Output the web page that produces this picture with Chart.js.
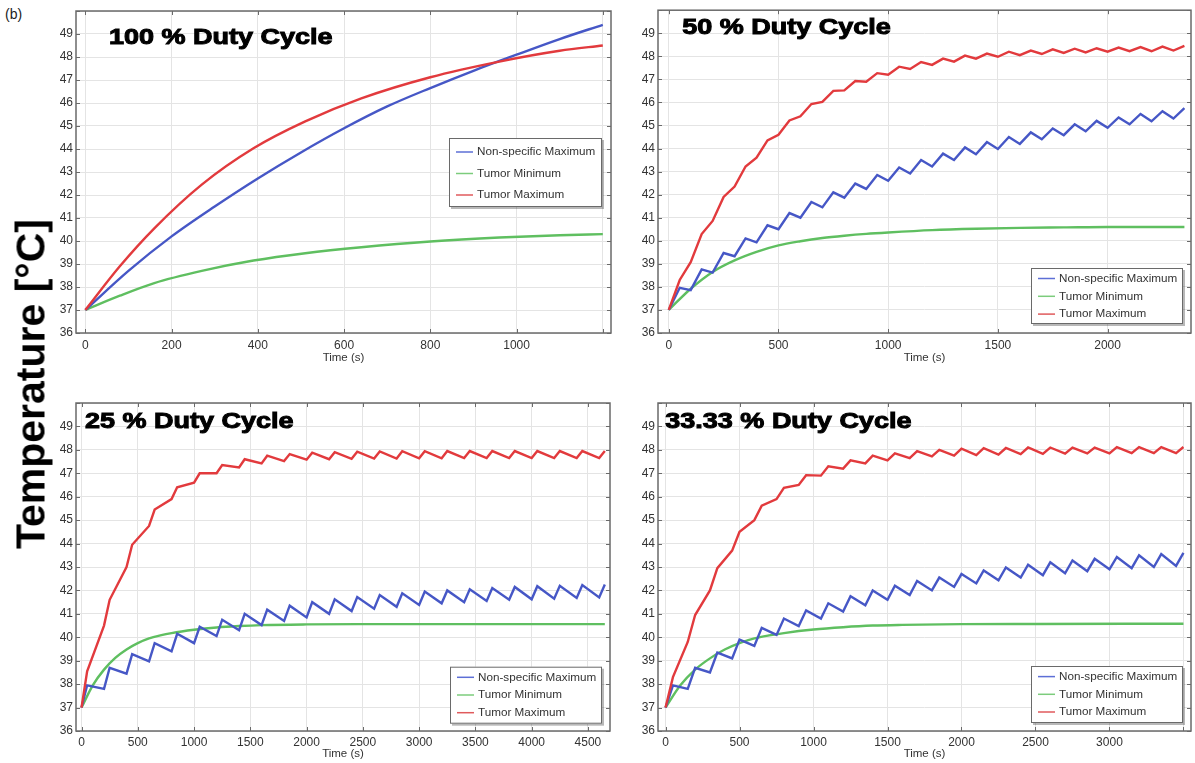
<!DOCTYPE html>
<html>
<head>
<meta charset="utf-8">
<script src="https://cdn.jsdelivr.net/npm/chart.js@4.4.1/dist/chart.umd.min.js"></script>
<style>
  body { margin: 0; background: #fff; width: 1195px; height: 763px; position: relative; overflow: hidden; font-family: 'Liberation Sans', Arial, sans-serif; }
  canvas { position: absolute; }
  #tag { position: absolute; left: 5px; top: 6px; font-size: 14px; color: #222; }
  #ylab { position: absolute; left: 31px; top: 384px; transform: translate(-50%, -50%) rotate(-90deg); font-weight: bold; font-size: 41px; line-height: 1; white-space: nowrap; color: #000; z-index: 5; }
</style>
</head>
<body>
<div id="tag">(b)</div>
<canvas id="c100" width="580" height="375" style="left:40px;top:0px"></canvas>
<canvas id="c50" width="575" height="375" style="left:620px;top:0px"></canvas>
<canvas id="c25" width="580" height="388" style="left:40px;top:375px"></canvas>
<canvas id="c33" width="575" height="388" style="left:620px;top:375px"></canvas>
<div id="ylab">Temperature [°C]</div>
<script>
// ---- 100 % duty cycle
const dc100TimeBlue = [0, 100, 200, 300, 400, 500, 600, 700, 800, 900, 1000, 1100, 1200];
const dc100Blue = [37, 38.7, 40.2, 41.5, 42.72, 43.85, 44.9, 45.85, 46.65, 47.4, 48.1, 48.78, 49.4];
const dc100Time = [0, 80, 160, 270, 390, 510, 640, 800, 960, 1100, 1200];
const dc100Green = [37, 37.62, 38.17, 38.7, 39.15, 39.47, 39.73, 39.98, 40.15, 40.25, 40.3];
const dc100Red = [37, 38.9, 40.55, 42.45, 44.03, 45.2, 46.2, 47.12, 47.8, 48.27, 48.5];

// ---- 50 % duty cycle
const dc50Time = [0, 50, 100, 150, 200, 250, 300, 350, 400, 450, 500, 550, 600, 650, 700, 750, 800, 850, 900, 950,
  1000, 1050, 1100, 1150, 1200, 1250, 1300, 1350, 1400, 1450, 1500, 1550, 1600, 1650, 1700, 1750, 1800, 1850, 1900, 1950,
  2000, 2050, 2100, 2150, 2200, 2250, 2300, 2350];
const dc50Blue = [37, 37.96, 37.86, 38.76, 38.62, 39.47, 39.33, 40.1, 39.93, 40.67, 40.5, 41.2, 41.0, 41.68, 41.45, 42.1,
  41.87, 42.48, 42.25, 42.85, 42.6, 43.18, 42.92, 43.5, 43.22, 43.78, 43.5, 44.05, 43.75, 44.28, 43.98, 44.5, 44.2, 44.7,
  44.4, 44.87, 44.58, 45.05, 44.75, 45.2, 44.9, 45.35, 45.05, 45.5, 45.18, 45.62, 45.3, 45.75];
const dc50Red = [37, 38.3, 39.07, 40.29, 40.86, 41.9, 42.35, 43.22, 43.6, 44.35, 44.6, 45.22, 45.4, 45.93, 46.02, 46.5,
  46.52, 46.93, 46.9, 47.27, 47.2, 47.55, 47.45, 47.75, 47.63, 47.9, 47.77, 48.03, 47.9, 48.12, 47.98, 48.2, 48.05, 48.25,
  48.1, 48.3, 48.15, 48.33, 48.17, 48.35, 48.2, 48.38, 48.22, 48.4, 48.22, 48.42, 48.25, 48.45];
const dc50GreenTime = [0, 100, 200, 300, 400, 500, 600, 700, 800, 900, 1000, 1200, 1400, 1600, 1800, 2000, 2350];
const dc50Green = [37, 37.92, 38.65, 39.15, 39.52, 39.8, 39.98, 40.12, 40.22, 40.3, 40.36, 40.46, 40.52, 40.56, 40.58, 40.6, 40.6];

// ---- 25 % duty cycle
const dc25Time = [0, 50, 200, 250, 400, 450, 600, 650, 800, 850, 1000, 1050, 1200, 1250, 1400, 1450, 1600, 1650, 1800, 1850,
  2000, 2050, 2200, 2250, 2400, 2450, 2600, 2650, 2800, 2850, 3000, 3050, 3200, 3250, 3400, 3450, 3600, 3650, 3800, 3850,
  4000, 4050, 4200, 4250, 4400, 4450, 4600, 4650];
const dc25Blue = [37, 37.95, 37.8, 38.7, 38.45, 39.28, 38.97, 39.75, 39.4, 40.15, 39.75, 40.45, 40.05, 40.75, 40.3, 41.0,
  40.52, 41.18, 40.7, 41.35, 40.85, 41.5, 41.0, 41.62, 41.12, 41.72, 41.22, 41.8, 41.3, 41.88, 41.38, 41.95, 41.45, 42.0,
  41.5, 42.05, 41.55, 42.1, 41.6, 42.15, 41.62, 42.18, 41.65, 42.2, 41.68, 42.23, 41.7, 42.25];
const dc25Red = [37, 38.55, 40.5, 41.6, 43.0, 43.95, 44.75, 45.45, 45.9, 46.4, 46.6, 47.0, 47.0, 47.35, 47.25, 47.6,
  47.42, 47.75, 47.52, 47.82, 47.58, 47.88, 47.6, 47.9, 47.62, 47.92, 47.63, 47.93, 47.63, 47.94, 47.64, 47.94, 47.64, 47.95,
  47.65, 47.95, 47.65, 47.95, 47.65, 47.95, 47.65, 47.95, 47.65, 47.95, 47.65, 47.95, 47.65, 47.95];
const dc25GreenTime = [0, 100, 200, 300, 400, 500, 600, 700, 800, 1000, 1200, 1400, 1600, 2000, 2500, 3000, 4650];
const dc25Green = [37, 37.95, 38.62, 39.12, 39.48, 39.75, 39.95, 40.08, 40.18, 40.32, 40.42, 40.48, 40.52, 40.55, 40.56, 40.56, 40.56];

// ---- 33.33 % duty cycle
const dc33Time = [0, 50, 150, 200, 300, 350, 450, 500, 600, 650, 750, 800, 900, 950, 1050, 1100, 1200, 1250, 1350, 1400,
  1500, 1550, 1650, 1700, 1800, 1850, 1950, 2000, 2100, 2150, 2250, 2300, 2400, 2450, 2550, 2600, 2700, 2750, 2850, 2900,
  3000, 3050, 3150, 3200, 3300, 3350, 3450, 3500];
const dc33Blue = [37, 37.95, 37.8, 38.7, 38.5, 39.35, 39.1, 39.9, 39.63, 40.4, 40.1, 40.8, 40.48, 41.15, 40.8, 41.45,
  41.1, 41.75, 41.37, 42.0, 41.6, 42.2, 41.8, 42.4, 42.0, 42.55, 42.15, 42.7, 42.3, 42.85, 42.43, 42.98, 42.55, 43.1,
  42.65, 43.2, 42.73, 43.28, 42.82, 43.35, 42.9, 43.43, 42.95, 43.5, 43.0, 43.55, 43.05, 43.6];
const dc33Red = [37, 38.3, 39.8, 40.95, 42.0, 42.95, 43.7, 44.5, 45.0, 45.62, 45.9, 46.38, 46.5, 46.92, 46.9, 47.3,
  47.2, 47.55, 47.42, 47.75, 47.55, 47.85, 47.65, 47.95, 47.72, 48.0, 47.75, 48.05, 47.78, 48.07, 47.8, 48.08, 47.82, 48.1,
  47.83, 48.1, 47.84, 48.1, 47.85, 48.1, 47.85, 48.12, 47.86, 48.12, 47.86, 48.12, 47.86, 48.12];
const dc33GreenTime = [0, 100, 200, 300, 400, 500, 600, 700, 800, 1000, 1200, 1400, 1600, 2000, 2500, 3500];
const dc33Green = [37, 37.95, 38.62, 39.1, 39.48, 39.75, 39.95, 40.08, 40.18, 40.33, 40.43, 40.5, 40.53, 40.56, 40.57, 40.58];

// ---- ticks
const yTicks = [36, 37, 38, 39, 40, 41, 42, 43, 44, 45, 46, 47, 48, 49, 50];
const yLabels = [36, 37, 38, 39, 40, 41, 42, 43, 44, 45, 46, 47, 48, 49];
const xTicks100 = [0, 200, 400, 600, 800, 1000, 1200];
const xLabels100 = [0, 200, 400, 600, 800, 1000];
const xTicks50 = [0, 500, 1000, 1500, 2000];
const xTicks25 = [0, 500, 1000, 1500, 2000, 2500, 3000, 3500, 4000, 4500];
const xTicks33 = [0, 500, 1000, 1500, 2000, 2500, 3000, 3500];
const xLabels33 = [0, 500, 1000, 1500, 2000, 2500, 3000];

const seriesNames = ["Non-specific Maximum", "Tumor Minimum", "Tumor Maximum"];

Chart.defaults.font.family = "'Liberation Sans', Arial, sans-serif";
Chart.defaults.color = "#333";

const toPoints = (xs, ys) => xs.map((x, i) => ({ x: x, y: ys[i] }));

const framePlugin = {
  id: "frame",
  afterDatasetsDraw(chart) {
    const { ctx, chartArea: a, scales } = chart;
    ctx.save();
    ctx.strokeStyle = "#6a6a6a";
    ctx.lineWidth = 1;
    ctx.beginPath();
    scales.x.ticks.forEach(t => {
      const px = Math.round(scales.x.getPixelForValue(t.value)) + 0.5;
      ctx.moveTo(px, a.bottom); ctx.lineTo(px, a.bottom - 4);
      ctx.moveTo(px, a.top); ctx.lineTo(px, a.top + 4);
    });
    scales.y.ticks.forEach(t => {
      const py = Math.round(scales.y.getPixelForValue(t.value)) + 0.5;
      ctx.moveTo(a.left, py); ctx.lineTo(a.left + 4, py);
      ctx.moveTo(a.right, py); ctx.lineTo(a.right - 4, py);
    });
    ctx.stroke();
    ctx.lineWidth = 1.5;
    ctx.strokeRect(a.left, a.top, a.right - a.left, a.bottom - a.top);
    ctx.restore();
  }
};

const panelPlugin = {
  id: "panel",
  afterDraw(chart, args, opts) {
    const ctx = chart.ctx;
    const lg = opts.legend;
    ctx.save();
    // legend box
    ctx.fillStyle = "rgba(0,0,0,0.28)";
    ctx.fillRect(lg.x + 2, lg.y + 2, lg.w, lg.h);
    ctx.fillStyle = "#fff";
    ctx.fillRect(lg.x, lg.y, lg.w, lg.h);
    ctx.strokeStyle = "#6a6a6a";
    ctx.lineWidth = 1;
    ctx.strokeRect(lg.x + 0.5, lg.y + 0.5, lg.w - 1, lg.h - 1);
    ctx.font = "11.7px 'Liberation Sans'";
    ctx.textBaseline = "middle";
    ctx.textAlign = "left";
    chart.data.datasets.forEach((ds, i) => {
      const cy = lg.y + lg.first + i * lg.row;
      ctx.strokeStyle = ds.legendColor;
      ctx.lineWidth = 1.5;
      ctx.beginPath();
      ctx.moveTo(lg.x + 7, cy); ctx.lineTo(lg.x + 24, cy);
      ctx.stroke();
      ctx.fillStyle = "#333";
      ctx.fillText(ds.label, lg.x + 28, cy);
    });
    ctx.restore();

    // panel title, a little stretched and heavy like the original
    ctx.save();
    ctx.translate(opts.title.x, opts.title.y);
    ctx.scale(1.2, 1);
    ctx.font = "bold 22.5px 'Liberation Sans'";
    ctx.textBaseline = "alphabetic";
    ctx.textAlign = "left";
    ctx.fillStyle = "#000";
    ctx.strokeStyle = "#000";
    ctx.lineWidth = 1;
    ctx.fillText(opts.title.text, 0, 0);
    ctx.strokeText(opts.title.text, 0, 0);
    ctx.restore();
  }
};

function makePanel(id, p) {
  const datasets = [
    { label: seriesNames[0], data: toPoints(p.blueTime, p.blue), borderColor: "#4657c6", legendColor: "#5d6fd6", order: 1,
      cubicInterpolationMode: p.smooth ? "monotone" : "default" },
    { label: seriesNames[1], data: toPoints(p.greenTime, p.green), borderColor: "#5fbf60", legendColor: "#7ccc7c", order: 2,
      cubicInterpolationMode: "monotone" },
    { label: seriesNames[2], data: toPoints(p.redTime, p.red), borderColor: "#e23a3d", legendColor: "#e05a5c", order: 0,
      cubicInterpolationMode: p.smooth ? "monotone" : "default" }
  ];
  datasets.forEach(d => { d.borderWidth = 2.4; d.pointRadius = 0; d.fill = false; d.tension = 0; });

  new Chart(document.getElementById(id), {
    type: "line",
    data: { datasets: datasets },
    plugins: [framePlugin, panelPlugin],
    options: {
      responsive: false,
      animation: false,
      devicePixelRatio: 1,
      layout: { padding: { left: 0, top: p.padTop, right: p.padRight, bottom: 0 } },
      plugins: {
        legend: { display: false },
        tooltip: { enabled: false },
        panel: { legend: p.legend, title: p.title }
      },
      scales: {
        x: {
          type: "linear",
          min: p.xMin,
          max: p.xMax,
          afterBuildTicks: axis => { axis.ticks = p.xTicks.map(v => ({ value: v })); },
          afterFit: axis => { axis.height = p.xHeight; },
          ticks: {
            padding: p.tickPad,
            font: { size: 12 },
            color: "#333",
            maxRotation: 0,
            autoSkip: false,
            callback: v => (p.xLabels.includes(v) ? String(v) : "")
          },
          grid: { color: "#e4e4e4", drawTicks: false },
          border: { display: false },
          title: { display: true, text: "Time (s)", font: { size: 11.5 }, color: "#333", padding: { top: 0, bottom: p.titlePad } }
        },
        y: {
          type: "linear",
          min: 36,
          max: 50,
          afterBuildTicks: axis => { axis.ticks = yTicks.map(v => ({ value: v })); },
          afterFit: axis => { axis.width = p.yWidth; },
          ticks: {
            padding: 3,
            font: { size: 12 },
            color: "#333",
            autoSkip: false,
            callback: v => (yLabels.includes(v) ? String(v) : "")
          },
          grid: { color: "#e4e4e4", drawTicks: false },
          border: { display: false }
        }
      }
    }
  });
}

makePanel("c100", {
  blueTime: dc100TimeBlue, blue: dc100Blue, smooth: true,
  greenTime: dc100Time, green: dc100Green,
  redTime: dc100Time, red: dc100Red,
  xMin: -21.6, xMax: 1219, xTicks: xTicks100, xLabels: xLabels100,
  padTop: 11, padRight: 9, yWidth: 36, xHeight: 42, tickPad: 5, titlePad: 10,
  legend: { x: 409, y: 138, w: 153, h: 69, first: 14, row: 21.5 },
  title: { text: "100 % Duty Cycle", x: 69, y: 43.5 }
});

makePanel("c50", {
  blueTime: dc50Time, blue: dc50Blue,
  greenTime: dc50GreenTime, green: dc50Green,
  redTime: dc50Time, red: dc50Red,
  xMin: -49, xMax: 2380, xTicks: xTicks50, xLabels: xTicks50,
  padTop: 4, padRight: 4, yWidth: 38, xHeight: 42, tickPad: 5, titlePad: 10,
  legend: { x: 411, y: 268, w: 152, h: 56, first: 10.5, row: 17.8 },
  title: { text: "50 % Duty Cycle", x: 62.3, y: 34.3 }
});

makePanel("c25", {
  blueTime: dc25Time, blue: dc25Blue,
  greenTime: dc25GreenTime, green: dc25Green,
  redTime: dc25Time, red: dc25Red,
  xMin: -49, xMax: 4696, xTicks: xTicks25, xLabels: xTicks25,
  padTop: 28, padRight: 10, yWidth: 36, xHeight: 32, tickPad: 4, titlePad: 2,
  legend: { x: 410, y: 291.7, w: 152, h: 57, first: 10.6, row: 17.7 },
  title: { text: "25 % Duty Cycle", x: 45, y: 53 }
});

makePanel("c33", {
  blueTime: dc33Time, blue: dc33Blue,
  greenTime: dc33GreenTime, green: dc33Green,
  redTime: dc33Time, red: dc33Red,
  xMin: -51, xMax: 3551, xTicks: xTicks33, xLabels: xLabels33,
  padTop: 28, padRight: 4, yWidth: 38, xHeight: 32, tickPad: 4, titlePad: 2,
  legend: { x: 411, y: 291, w: 152, h: 57, first: 10.6, row: 17.7 },
  title: { text: "33.33 % Duty Cycle", x: 45.3, y: 53 }
});
</script>
</body>
</html>
